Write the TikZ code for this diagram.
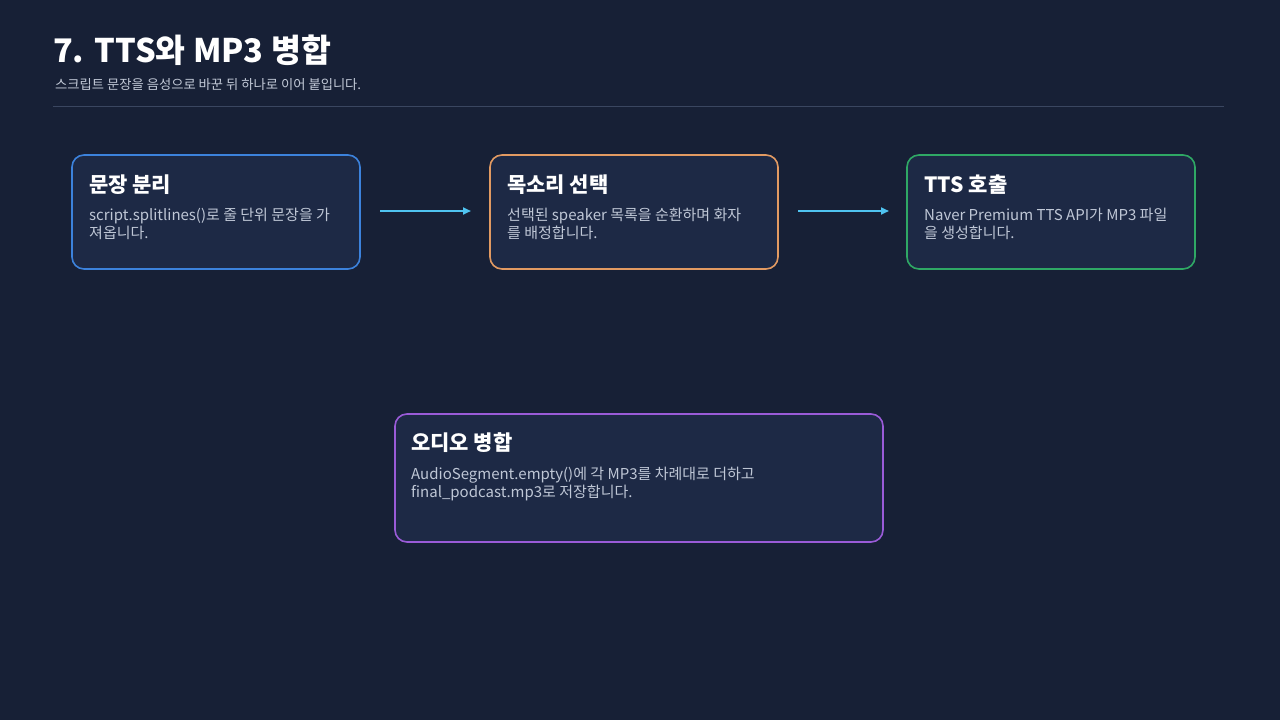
\documentclass[tikz,border=0pt]{standalone}
\usepackage{fontspec}
\setmainfont{Noto Sans CJK KR}
\usepackage{tikz}
\usetikzlibrary{arrows.meta, positioning, calc}
\definecolor{PageBg}{HTML}{172036}
\definecolor{BoxFill}{HTML}{1D2945}
\definecolor{RuleGray}{HTML}{3A4660}
\definecolor{SubGray}{HTML}{C3CAD8}
\definecolor{BodyGray}{HTML}{BFC7D6}
\definecolor{SplitBlue}{HTML}{3C82DC}
\definecolor{VoiceOrange}{HTML}{E29A62}
\definecolor{CallGreen}{HTML}{2FA865}
\definecolor{MergePurple}{HTML}{9A5BD8}
\definecolor{FlowCyan}{HTML}{4FC3F0}
\tikzset{
  step box/.style={rectangle, rounded corners=12pt, fill=BoxFill, line width=1.6pt, outer sep=0pt,
                   minimum width=288pt, minimum height=114pt, inner sep=0pt, anchor=north west},
  box title/.style={anchor=base west, inner sep=0pt, text=white, font=\fontsize{21}{24}\selectfont\bfseries},
  box body/.style={anchor=base west, inner sep=0pt, text=BodyGray, align=left,
                   font=\fontsize{15}{18}\selectfont},
  flow edge/.style={-{Triangle[length=8pt, width=7pt]}, line width=2pt, draw=FlowCyan},
}

\begin{document}
\begin{tikzpicture}[x=1pt, y=-1pt]
  \fill[PageBg] (0,0) rectangle (1280,720);
  \useasboundingbox (0,0) rectangle (1280,720);
  % heading
  \node[anchor=base west, inner sep=0pt, text=white, font=\fontsize{32.5}{36}\selectfont\bfseries]
    (title) at (53,62) {7. TTS와 MP3 병합};
  \node[anchor=base west, inner sep=0pt, text=SubGray, font=\fontsize{13.3}{15}\selectfont]
    (subtitle) at (55,89) {스크립트 문장을 음성으로 바꾼 뒤 하나로 이어 붙입니다.};
  \coordinate (ruleL) at (53,106);
  \coordinate (ruleR) at (1224,106);
  \draw[RuleGray, line width=1pt] (ruleL) -- (ruleR);

  % steps
  \node[step box, draw=SplitBlue] (split) at (72,155) {};
  \node[step box, draw=VoiceOrange, right=130pt of split.north east, anchor=north west] (voice) {};
  \node[step box, draw=CallGreen, right=129pt of voice.north east, anchor=north west] (call) {};
  \node[step box, draw=MergePurple, minimum width=488pt, minimum height=128pt] (merge) at (395,414) {};

  \node[box title] (splitHead) at ([shift={(17pt,-37pt)}]split.north west) {문장 분리};
  \node[box body] (splitText) at ([shift={(17pt,-83pt)}]split.north west)
    {script.splitlines()로 줄 단위 문장을 가\\져옵니다.};
  \node[box title] (voiceHead) at ([shift={(17pt,-37pt)}]voice.north west) {목소리 선택};
  \node[box body] (voiceText) at ([shift={(17pt,-83pt)}]voice.north west)
    {선택된 speaker 목록을 순환하며 화자\\를 배정합니다.};
  \node[box title] (callHead) at ([shift={(17pt,-37pt)}]call.north west) {TTS 호출};
  \node[box body] (callText) at ([shift={(17pt,-83pt)}]call.north west)
    {Naver Premium TTS API가 MP3 파일\\을 생성합니다.};
  \node[box title] (mergeHead) at ([shift={(16pt,-36pt)}]merge.north west) {오디오 병합};
  \node[box body] (mergeText) at ([shift={(16pt,-83pt)}]merge.north west)
    {AudioSegment.empty()에 각 MP3를 차례대로 더하고\\final\_podcast.mp3로 저장합니다.};

  % arrows
  \draw[flow edge, shorten <=20pt, shorten >=19pt] (split.east |- 0,211) -- (voice.west |- 0,211);
  \draw[flow edge, shorten <=20pt, shorten >=18pt] (voice.east |- 0,211) -- (call.west |- 0,211);
\end{tikzpicture}
\end{document}
